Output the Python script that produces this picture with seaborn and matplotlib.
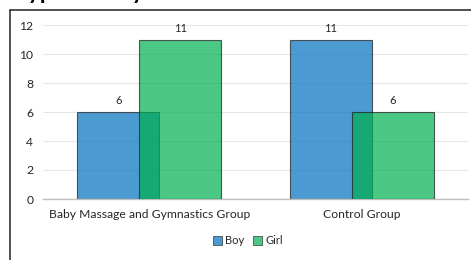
import matplotlib
matplotlib.use("Agg")
import matplotlib.pyplot as plt
import matplotlib.patches as mpatches
import seaborn as sns
import pandas as pd

# values
groups = ["Baby Massage and Gymnastics Group", "Control Group"]
boy = [6, 11]
girl = [11, 6]
yticks = [0, 2, 4, 6, 8, 10, 12]

boy_color = "#0070C0"
girl_color = "#00B050"
shift = 0.146   # bars overlap, shifted from group centre
bar_w = 0.386

sns.set_theme(style="white")
plt.rcParams["font.family"] = ["Lato", "DejaVu Sans"]

fig = plt.figure(figsize=(4.71, 2.6), dpi=100)
ax = fig.add_axes([43 / 471, 61 / 260, 425 / 471, 174 / 260])

pos = list(range(len(groups)))
df_boy = pd.DataFrame({"x": [p - shift for p in pos], "n": boy})
df_girl = pd.DataFrame({"x": [p + shift for p in pos], "n": girl})

sns.barplot(data=df_boy, x="x", y="n", native_scale=True, width=bar_w,
            color=boy_color, alpha=0.7, edgecolor="#1b1b1b", linewidth=0.8,
            saturation=1, ax=ax, zorder=2)
sns.barplot(data=df_girl, x="x", y="n", native_scale=True, width=bar_w,
            color=girl_color, alpha=0.7, edgecolor="#1b1b1b", linewidth=0.8,
            saturation=1, ax=ax, zorder=3)

for c in ax.containers:
    ax.bar_label(c, fmt="%d", padding=4, fontsize=8, color="#262626")

ax.set_xlim(-0.5, len(groups) - 0.5)
ax.set_ylim(0, 12)
ax.set_xticks(pos)
ax.set_xticklabels(groups, fontsize=8.7, color="#262626")
ax.set_yticks(yticks)
ax.set_yticklabels([str(t) for t in yticks], fontsize=8.7, color="#262626")
ax.tick_params(axis="both", length=0, pad=7)
ax.set_xlabel("")
ax.set_ylabel("")
ax.yaxis.grid(True, color="#e6e6e6", linewidth=0.8, zorder=0)
ax.set_axisbelow(True)
for s in ["top", "right", "left"]:
    ax.spines[s].set_visible(False)
ax.spines["bottom"].set_color("#bfbfbf")
ax.spines["bottom"].set_linewidth(1)

handles = [mpatches.Patch(facecolor=boy_color, alpha=0.7, edgecolor="#1b1b1b", linewidth=0.6, label="Boy"),
           mpatches.Patch(facecolor=girl_color, alpha=0.7, edgecolor="#1b1b1b", linewidth=0.6, label="Girl")]
fig.legend(handles=handles, loc="center", bbox_to_anchor=(248 / 471, 1 - 241 / 260),
           ncol=2, frameon=False, fontsize=8, handlelength=0.8, handleheight=0.8,
           handletextpad=0.3, columnspacing=0.8)

# chart border (top and left edges visible in the crop)
fig.add_artist(plt.Line2D([10 / 471, 10 / 471], [0, 1 - 10 / 260], transform=fig.transFigure,
                          color="#333333", linewidth=1.2))
fig.add_artist(plt.Line2D([10 / 471, 1], [1 - 10 / 260, 1 - 10 / 260], transform=fig.transFigure,
                          color="#333333", linewidth=1.2))

# title cut off at the top of the image, only the descenders show
fig.text(10 / 471, 1 + 1 / 260, "Hypotonicity", fontsize=16.5, fontweight="bold",
         ha="left", va="baseline", color="black")

fig.savefig("out.png", dpi=100)
